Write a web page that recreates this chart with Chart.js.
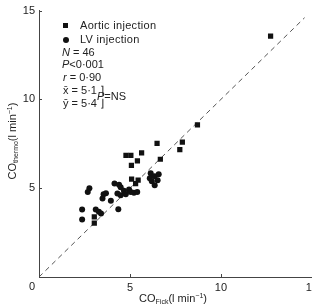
<!DOCTYPE html>
<html>
<head>
<meta charset="utf-8">
<script src="https://cdn.jsdelivr.net/npm/chart.js@4/dist/chart.umd.min.js"></script>
<style>
  html, body { margin: 0; padding: 0; background: #fff; }
  #wrap { position: relative; width: 312px; height: 307px; overflow: hidden; font-family: "Liberation Sans", Arial, sans-serif; color: #222; }
  #chart { position: absolute; left: 0; top: 0; }
  .t { position: absolute; white-space: nowrap; font-size: 11px; line-height: 12px; }
  .sq { display: inline-block; width: 5px; height: 5px; background: #111; margin-right: 12px; vertical-align: 1px; }
  .ci { display: inline-block; width: 6px; height: 6px; border-radius: 50%; background: #111; margin-right: 11px; vertical-align: 0px; }
  sub { font-size: 7px; vertical-align: -2px; }
  sup { font-size: 7px; vertical-align: 4px; }
  #ytitle { position: absolute; left: 12px; top: 141px; transform: translate(-50%, -50%) rotate(-90deg); font-size: 11px; white-space: nowrap; }
  #xtitle { position: absolute; left: 173px; top: 298px; transform: translate(-50%, -50%); font-size: 11px; white-space: nowrap; }
</style>
</head>
<body>
<div id="wrap">
  <canvas id="chart" width="322" height="307"></canvas>
  <div class="t" style="left:63px;top:19px;letter-spacing:0.3px;"><span class="sq"></span>Aortic injection</div>
  <div class="t" style="left:63px;top:33px;letter-spacing:0.3px;"><span class="ci"></span>LV injection</div>
  <div class="t" style="left:62px;top:46px;"><i>N</i> = 46</div>
  <div class="t" style="left:62px;top:58px;"><i>P</i>&lt;0·001</div>
  <div class="t" style="left:63px;top:71px;"><i>r</i> = 0·90</div>
  <div class="t" style="left:63px;top:84px;">x̄ = 5·1 ⌉</div>
  <div class="t" style="left:63px;top:97px;">ȳ = 5·4 ⌋</div>
  <div class="t" style="left:97px;top:90px;"><i>P</i>=NS</div>
  <div class="t" style="left:29px;top:280px;">0</div>
  <div id="ytitle">CO<sub>thermo</sub>(l min<sup>−1</sup>)</div>
  <div id="xtitle">CO<sub>Fick</sub>(l min<sup>−1</sup>)</div>
</div>
<script>
// values (l/min)
const aorticX = [3.04, 3.04, 5.31, 5.45, 5.09, 4.78, 5.05, 5.08, 5.41, 5.64, 6.49, 6.67, 7.74, 7.88, 8.71, 12.73];
const aorticY = [3.39, 3.03, 5.26, 5.45, 5.51, 6.85, 6.85, 6.29, 6.54, 6.99, 7.53, 6.63, 7.17, 7.60, 8.57, 13.56];

const lvX = [2.37, 2.37, 2.68, 2.77, 3.12, 3.29, 3.41, 3.55, 3.49, 3.68, 3.95, 4.15, 4.40, 4.49, 4.31,
  4.49, 4.67, 4.77, 4.95, 5.04, 4.36, 5.22, 5.40, 6.14, 6.09, 6.36, 6.58, 6.20, 6.52, 6.36];
const lvY = [3.80, 3.24, 4.79, 5.00, 3.80, 3.67, 3.58, 4.66, 4.42, 4.72, 4.29, 5.26, 5.20, 5.06, 4.70,
  4.61, 4.86, 4.66, 4.93, 4.79, 3.82, 4.74, 4.79, 5.84, 5.56, 5.67, 5.79, 5.39, 5.45, 5.17];

// line of identity
const identityX = [0, 14.6];
const identityY = [0, 14.6];

const tickValues = [0, 5, 10, 15];

function toPoints(xs, ys) {
  return xs.map((x, i) => ({ x: x, y: ys[i] }));
}

// short tick marks drawn inside the axes
const innerTicks = {
  id: 'innerTicks',
  afterDraw(chart) {
    const ctx = chart.ctx;
    const xs = chart.scales.x;
    const ys = chart.scales.y;
    const area = chart.chartArea;
    ctx.save();
    ctx.strokeStyle = '#444';
    ctx.lineWidth = 1;
    tickValues.forEach(v => {
      const px = Math.round(xs.getPixelForValue(v)) + 0.5;
      ctx.beginPath();
      ctx.moveTo(px, area.bottom);
      ctx.lineTo(px, area.bottom - 3);
      ctx.stroke();
      const py = Math.round(ys.getPixelForValue(v)) + 0.5;
      ctx.beginPath();
      ctx.moveTo(area.left, py);
      ctx.lineTo(area.left + 3, py);
      ctx.stroke();
    });
    ctx.restore();
  }
};

const tickFont = { family: 'Liberation Sans', size: 11 };

new Chart(document.getElementById('chart'), {
  type: 'scatter',
  data: {
    datasets: [
      {
        label: 'Aortic injection',
        data: toPoints(aorticX, aorticY),
        pointStyle: 'rect',
        pointRadius: 3.7,
        backgroundColor: '#111',
        borderColor: '#111',
        borderWidth: 0
      },
      {
        label: 'LV injection',
        data: toPoints(lvX, lvY),
        pointStyle: 'circle',
        pointRadius: 3,
        backgroundColor: '#111',
        borderColor: '#111',
        borderWidth: 0
      },
      {
        type: 'line',
        label: 'identity',
        data: toPoints(identityX, identityY),
        borderColor: '#555',
        borderWidth: 1,
        borderDash: [5, 4],
        pointRadius: 0,
        fill: false
      }
    ]
  },
  options: {
    responsive: false,
    animation: false,
    layout: { padding: { left: 0, top: 10, right: 7, bottom: 0 } },
    plugins: {
      legend: { display: false },
      tooltip: { enabled: false }
    },
    scales: {
      x: {
        type: 'linear',
        min: 0,
        max: 15,
        afterFit(scale) { scale.height = 30; },
        grid: { display: false, drawTicks: false },
        border: { display: true, color: '#444', width: 1 },
        ticks: {
          stepSize: 5,
          padding: 4,
          color: '#222',
          font: tickFont,
          maxRotation: 0,
          callback: v => (v === 0 ? '' : v)
        }
      },
      y: {
        type: 'linear',
        min: 0,
        max: 15,
        afterFit(scale) { scale.width = 39; },
        grid: { display: false, drawTicks: false },
        border: { display: true, color: '#444', width: 1 },
        ticks: {
          stepSize: 5,
          padding: 4,
          color: '#222',
          font: tickFont,
          callback: v => (v === 0 ? '' : v)
        }
      }
    }
  },
  plugins: [innerTicks]
});
</script>
</body>
</html>
